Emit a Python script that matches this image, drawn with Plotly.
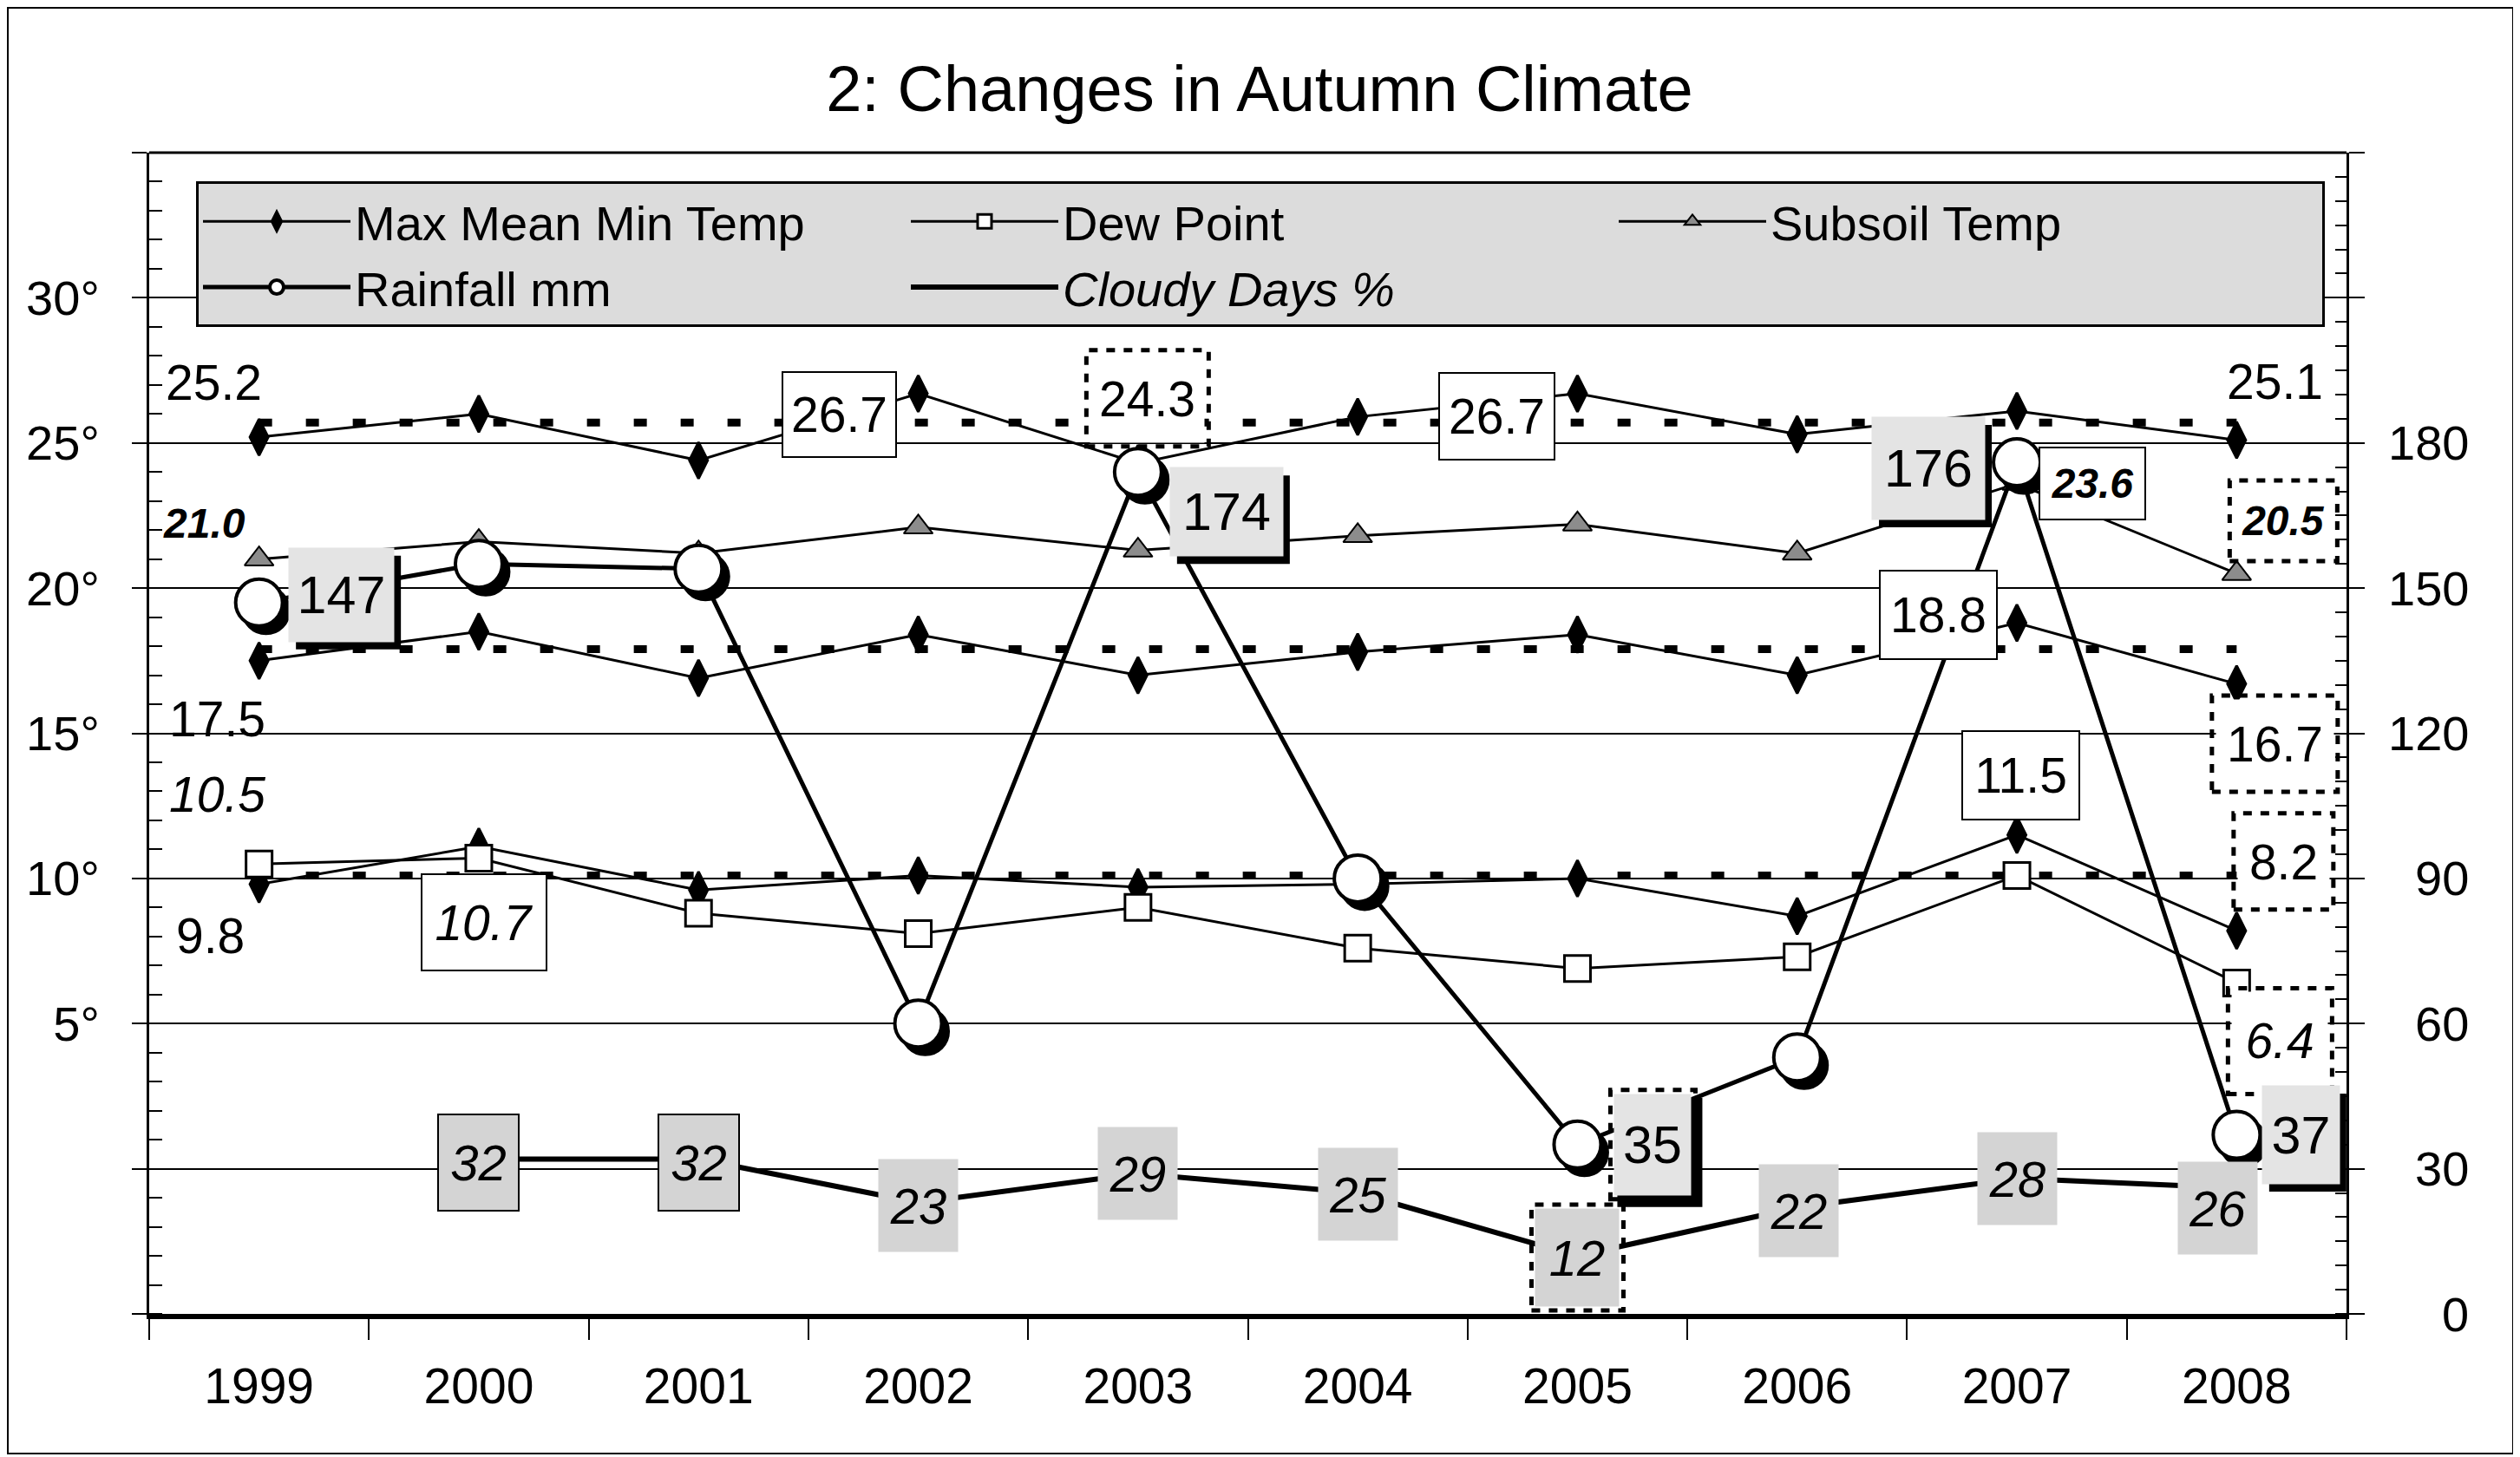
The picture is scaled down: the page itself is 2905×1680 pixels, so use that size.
import plotly.graph_objects as go

# ---------------- data ----------------
years = ["1999", "2000", "2001", "2002", "2003", "2004", "2005", "2006", "2007", "2008"]
max_temp = [25.2, 26.0, 24.4, 26.7, 24.3, 25.9, 26.7, 25.3, 26.1, 25.1]
mean_temp = [17.5, 18.5, 16.9, 18.4, 17.0, 17.8, 18.4, 17.0, 18.8, 16.7]
min_temp = [9.8, 11.1, 9.6, 10.1, 9.7, 9.8, 10.0, 8.7, 11.5, 8.2]
dew_point = [10.5, 10.7, 8.8, 8.1, 9.0, 7.6, 6.9, 7.3, 10.1, 6.4]
subsoil_temp = [21.0, 21.6, 21.2, 22.1, 21.3, 21.8, 22.2, 21.2, 23.6, 20.5]
rainfall_mm = [147, 155, 154, 60, 174, 90, 35, 53, 176, 37]
cloudy_pct = [None, 32, 32, 23, 29, 25, 12, 22, 28, 26]
avg_max = 25.7
avg_mean = 17.9
avg_min = 10.1

left_tickvals = [-5, 0, 5, 10, 15, 20, 25, 30, 35]
left_ticktext = ["", "", "5°", "10°", "15°", "20°", "25°", "30°", ""]
right_tickvals = [0, 30, 60, 90, 120, 150, 180, 210, 240]
right_ticktext = ["0", "30", "60", "90", "120", "150", "180", "", ""]

# ---------------- geometry / style ----------------
W, H = 2905, 1680
ML, MR, MT, MB = 164, 208, 168, 173
PW, PH = W - ML - MR, H - MT - MB
FONT = "Liberation Sans, Arial, sans-serif"
SHADOW_X, SHADOW_Y = 8, 9
sx = SHADOW_X / (PW / len(years))
sy = SHADOW_Y * 240 / PH

fig = go.Figure()

for avg in (avg_max, avg_mean, avg_min):
    fig.add_trace(go.Scatter(
        x=[years[0], years[-1]], y=[avg, avg], mode="lines",
        line=dict(color="black", width=9, dash="15px,39px"),
        showlegend=False, hoverinfo="skip"))

for i, vals in enumerate((max_temp, mean_temp, min_temp)):
    fig.add_trace(go.Scatter(
        x=years, y=vals, mode="lines+markers", name="Max Mean Min Temp",
        legendgroup="mmm", showlegend=(i == 0), legendrank=1,
        line=dict(color="black", width=3),
        marker=dict(symbol="diamond-tall", size=30, color="black",
                    line=dict(color="black", width=3))))

fig.add_trace(go.Scatter(
    x=years, y=dew_point, mode="lines+markers", name="Dew Point", legendrank=2,
    line=dict(color="black", width=3),
    marker=dict(symbol="square", size=30, color="white", line=dict(color="black", width=3))))

fig.add_trace(go.Scatter(
    x=years, y=subsoil_temp, mode="lines+markers", name="Subsoil Temp", legendrank=3,
    line=dict(color="black", width=3),
    marker=dict(symbol="triangle-up", size=29, color="#8c8c8c", line=dict(color="black", width=2))))

fig.add_trace(go.Scatter(
    x=years, y=cloudy_pct, mode="lines", name="<i>Cloudy Days %</i>", legendrank=5,
    yaxis="y2", line=dict(color="black", width=6)))

# rainfall: shadow drawn through offset overlay axes, then the series itself
fig.add_trace(go.Scatter(
    x=years, y=rainfall_mm, mode="markers", xaxis="x2", yaxis="y3",
    showlegend=False, hoverinfo="skip",
    marker=dict(symbol="circle", size=54, color="black", line=dict(color="black", width=3))))
fig.add_trace(go.Scatter(
    x=years, y=rainfall_mm, mode="lines+markers", name="Rainfall mm", legendrank=4,
    xaxis="x3", yaxis="y4",
    line=dict(color="black", width=5),
    marker=dict(symbol="circle", size=54, color="white", line=dict(color="black", width=4))))

# ---------------- data labels ----------------
series = {"max": (max_temp, "y"), "mean": (mean_temp, "y"), "min": (min_temp, "y"),
          "dew": (dew_point, "y"), "soil": (subsoil_temp, "y"),
          "rain": (rainfall_mm, "y2"), "cloud": (cloudy_pct, "y2")}

# (series, index, dx px, dy px (down), box w, box h, box kind, text format)
label_specs = [
    ("max", 0, -52, -63, None, None, "plain", "n"),
    ("max", 3, -91, 24, 133, 100, "box", "n"),
    ("max", 4, 11, -75, 141, 111, "dotted", "n"),
    ("max", 6, -93, 26, 135, 102, "box", "n"),
    ("max", 9, 44, -67, None, None, "plain", "n"),
    ("soil", 0, -63, -41, None, None, "plain", "bi"),
    ("rain", 0, 95, -9, 121, 108, "hatch", "r"),
    ("rain", 4, 102, 46, 130, 102, "hatch", "r"),
    ("rain", 8, -102, 7, 130, 118, "hatch", "r"),
    ("soil", 8, 87, 0, 124, 85, "box", "bi"),
    ("soil", 9, 54, -61, 124, 93, "dotted", "bi"),
    ("mean", 0, -48, 67, None, None, "plain", "n"),
    ("mean", 8, -91, -9, 137, 104, "box", "n"),
    ("mean", 9, 44, 69, 145, 111, "dotted", "n"),
    ("dew", 0, -48, -80, None, None, "plain", "i"),
    ("min", 0, -56, 59, None, None, "plain", "n"),
    ("dew", 1, 6, 74, 146, 113, "box", "i"),
    ("min", 8, 4, -69, 137, 104, "box", "n"),
    ("min", 9, 54, -80, 115, 111, "dotted", "n"),
    ("dew", 9, 50, 67, 120, 122, "dotted", "i"),
    ("rain", 6, 87, 0, 98, 126, "hatchdot", "r"),
    ("rain", 9, 74, 0, 89, 113, "hatch", "r"),
    ("cloud", 1, 0, 4, 95, 113, "cbox", "ci"),
    ("cloud", 2, 0, 4, 95, 113, "cbox", "ci"),
    ("cloud", 3, 0, 3, 91, 106, "cgray", "ci"),
    ("cloud", 4, 0, 0, 91, 106, "cgray", "ci"),
    ("cloud", 5, 0, 1, 91, 106, "cgray", "ci"),
    ("cloud", 6, 0, 2, 106, 122, "cdot", "ci"),
    ("cloud", 7, 2, 4, 91, 106, "cgray", "ci"),
    ("cloud", 8, 0, 0, 91, 106, "cgray", "ci"),
    ("cloud", 9, -22, 23, 91, 106, "cgray", "ci"),
]

HATCH = "#e4e4e4"
CGRAY = "#d4d4d4"
annotations = []
shapes = []


def pixel_rect(idx, v, yref, dx, dy, w, h, **style):
    return dict(type="rect", xref="x", yref=yref, xsizemode="pixel", ysizemode="pixel",
                xanchor=idx, yanchor=v,
                x0=dx - w / 2, x1=dx + w / 2, y0=-dy - h / 2, y1=-dy + h / 2, **style)


for key, idx, dx, dy, w, h, kind, fmt in label_specs:
    vals, yref = series[key]
    v = vals[idx]
    txt = f"{v:.0f}" if fmt in ("r", "ci") else f"{v:.1f}"
    size = 57
    if fmt == "bi":
        txt = f"<b><i>{txt}</i></b>"
        size = 48
    elif fmt == "i":
        txt = f"<i>{txt}</i>"
    elif fmt == "ci":
        txt = f"<i>{txt}</i>"
        size = 58
    elif fmt == "r":
        size = 61
    a = dict(x=idx, y=v, xref="x", yref=yref, showarrow=False, text=txt,
             xanchor="center", yanchor="middle", xshift=dx, yshift=-dy,
             borderpad=0, font=dict(family=FONT, size=size, color="black"))
    if kind in ("hatch", "hatchdot"):
        shapes.append(pixel_rect(idx, v, yref, dx + SHADOW_X, dy + SHADOW_Y, w, h,
                                 line=dict(width=0), fillcolor="black", layer="above"))
    if kind == "box":
        a.update(width=w - 4, height=h - 4, bgcolor="white", bordercolor="black", borderwidth=2)
    elif kind == "cbox":
        a.update(width=w - 4, height=h - 4, bgcolor=CGRAY, bordercolor="black", borderwidth=2)
    elif kind == "cgray":
        a.update(width=w, height=h, bgcolor=CGRAY)
    elif kind == "hatch":
        a.update(width=w, height=h, bgcolor=HATCH)
    elif kind in ("dotted", "cdot", "hatchdot"):
        bg = {"dotted": "white", "cdot": CGRAY, "hatchdot": HATCH}[kind]
        a.update(width=w - 10, height=h - 10, bgcolor=bg)
        shapes.append(pixel_rect(idx, v, yref, dx, dy, w, h,
                                 line=dict(color="black", width=5, dash="10px,10px"),
                                 fillcolor="rgba(0,0,0,0)", layer="above"))
    annotations.append(a)

# right-axis tick labels, right aligned
for val, t in zip(right_tickvals, right_ticktext):
    if t:
        annotations.append(dict(x=1, xref="paper", y=val, yref="y2", text=t, showarrow=False,
                                xanchor="right", yanchor="middle", xshift=143,
                                font=dict(family=FONT, size=56, color="black")))

# frame lines
shapes.append(dict(type="line", xref="paper", yref="paper", x0=0, x1=1, y0=1, y1=1,
                   line=dict(color="black", width=3)))
shapes.append(dict(type="rect", xref="paper", yref="paper",
                   x0=(1 - ML) / PW, x1=(W - 16 - ML) / PW,
                   y0=(H - MB - (H - 12)) / PH, y1=(H - MB - 1) / PH,
                   line=dict(color="black", width=2), fillcolor="rgba(0,0,0,0)", layer="below"))

fig.update_layout(
    width=W, height=H,
    margin=dict(l=ML, r=MR, t=MT, b=MB),
    paper_bgcolor="white", plot_bgcolor="white",
    font=dict(family=FONT, color="black"),
    hovermode=False,
    title=dict(text="2: Changes in Autumn Climate", x=(1452 - 8) / W, xref="container",
               xanchor="center", y=1 - 94 / H, yref="container", yanchor="middle",
               font=dict(family=FONT, size=74, color="black")),
    xaxis=dict(type="category", categoryorder="array", categoryarray=years, range=[-0.5, 9.5],
               showline=True, linecolor="black", linewidth=6, ticks="outside", tickson="boundaries",
               ticklen=24, tickwidth=2, tickcolor="black", showgrid=False, zeroline=False,
               tickfont=dict(family=FONT, size=57, color="black"), ticklabelstandoff=29),
    yaxis=dict(range=[-5, 35], tickmode="array", tickvals=left_tickvals, ticktext=left_ticktext,
               ticks="outside", ticklen=17, tickwidth=2, tickcolor="black",
               showline=True, linecolor="black", linewidth=3, showgrid=False, zeroline=False,
               minor=dict(tickmode="linear", tick0=0, dtick=1, ticks="inside", ticklen=15,
                          tickwidth=2, tickcolor="black", showgrid=False),
               tickfont=dict(family=FONT, size=56, color="black"), ticklabelstandoff=26),
    yaxis2=dict(overlaying="y", side="right", range=[0, 240], tickmode="array",
                tickvals=right_tickvals, showticklabels=False,
                ticks="outside", ticklen=18, tickwidth=2, tickcolor="black",
                showline=True, linecolor="black", linewidth=3,
                showgrid=True, gridcolor="black", gridwidth=2, zeroline=False,
                minor=dict(tickmode="linear", tick0=0, dtick=5, ticks="inside", ticklen=13,
                           tickwidth=2, tickcolor="black", showgrid=False)),
    xaxis2=dict(overlaying="x", type="category", categoryorder="array", categoryarray=years,
                range=[-0.5 - sx, 9.5 - sx], visible=False),
    yaxis3=dict(overlaying="y", range=[0 + sy, 240 + sy], visible=False),
    xaxis3=dict(overlaying="x", type="category", categoryorder="array", categoryarray=years,
                range=[-0.5, 9.5], visible=False),
    yaxis4=dict(overlaying="y", range=[0, 240], visible=False),
    legend=dict(orientation="h", x=(218 - ML) / PW, xanchor="left",
                y=(H - MB - (113 * 1.853 - 8)) / PH, yanchor="top",
                bgcolor="#dcdcdc", bordercolor="black", borderwidth=3,
                font=dict(family=FONT, size=56, color="black"),
                entrywidth=631, entrywidthmode="pixels", itemwidth=170,
                traceorder="normal"),
    annotations=annotations,
    shapes=shapes,
)

fig.write_html("out.html")
